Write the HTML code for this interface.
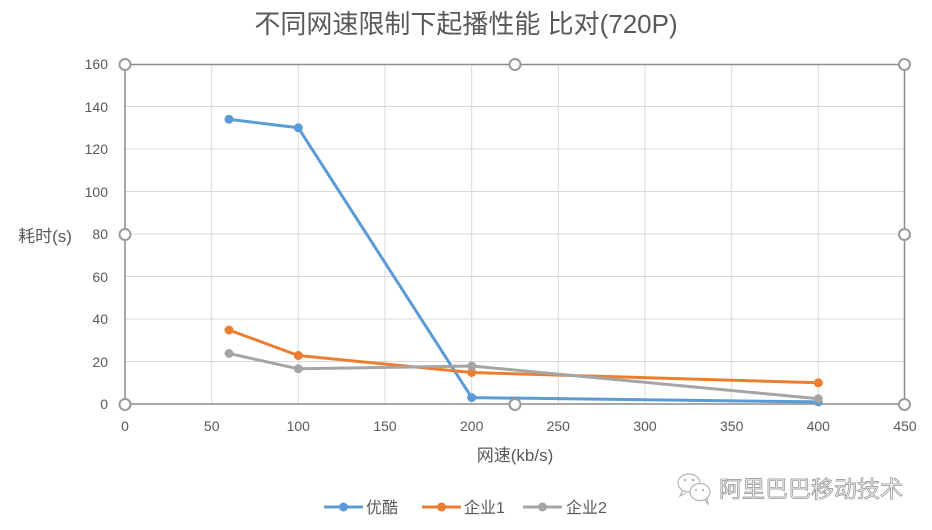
<!DOCTYPE html>
<html>
<head>
<meta charset="utf-8">
<style>
html,body{margin:0;padding:0;background:#fff;}
svg{display:block;}
text{font-family:"Liberation Sans","Noto Sans CJK SC",sans-serif;}
</style>
</head>
<body>
<svg width="932" height="530" viewBox="0 0 932 530" xmlns="http://www.w3.org/2000/svg">
<rect width="932" height="530" fill="#fff"/>
<!-- title -->
<text x="466" y="33" text-anchor="middle" font-size="26" fill="#595959">不同网速限制下起播性能 比对(720P)</text>

<!-- horizontal gridlines -->
<g stroke="#d9d9d9" stroke-width="1">
<line x1="125" y1="361.5" x2="905" y2="361.5"/>
<line x1="125" y1="319" x2="905" y2="319"/>
<line x1="125" y1="276.5" x2="905" y2="276.5"/>
<line x1="125" y1="234" x2="905" y2="234"/>
<line x1="125" y1="191.5" x2="905" y2="191.5"/>
<line x1="125" y1="149" x2="905" y2="149"/>
<line x1="125" y1="106.5" x2="905" y2="106.5"/>
<!-- vertical gridlines -->
<line x1="211.7" y1="64" x2="211.7" y2="404"/>
<line x1="298.3" y1="64" x2="298.3" y2="404"/>
<line x1="385" y1="64" x2="385" y2="404"/>
<line x1="471.7" y1="64" x2="471.7" y2="404"/>
<line x1="558.3" y1="64" x2="558.3" y2="404"/>
<line x1="645" y1="64" x2="645" y2="404"/>
<line x1="731.7" y1="64" x2="731.7" y2="404"/>
<line x1="818.3" y1="64" x2="818.3" y2="404"/>
</g>

<!-- frame / axes -->
<g stroke="#8c8c8c" stroke-width="1.5" fill="none">
<line x1="125" y1="64.5" x2="905" y2="64.5"/>
<line x1="904.5" y1="64" x2="904.5" y2="404"/>
<line x1="125" y1="64" x2="125" y2="404"/>
<line x1="125" y1="404" x2="905" y2="404"/>
</g>

<!-- y tick labels -->
<g font-size="14" fill="#595959" text-anchor="end">
<text x="108" y="409">0</text>
<text x="108" y="367">20</text>
<text x="108" y="324">40</text>
<text x="108" y="282">60</text>
<text x="108" y="239">80</text>
<text x="108" y="197">100</text>
<text x="108" y="154">120</text>
<text x="108" y="112">140</text>
<text x="108" y="69">160</text>
</g>
<!-- x tick labels -->
<g font-size="14" fill="#595959" text-anchor="middle">
<text x="125" y="431">0</text>
<text x="211.7" y="431">50</text>
<text x="298.3" y="431">100</text>
<text x="385" y="431">150</text>
<text x="471.7" y="431">200</text>
<text x="558.3" y="431">250</text>
<text x="645" y="431">300</text>
<text x="731.7" y="431">350</text>
<text x="818.3" y="431">400</text>
<text x="905" y="431">450</text>
</g>

<!-- axis titles -->
<text x="515" y="461" text-anchor="middle" font-size="17" fill="#595959">网速(kb/s)</text>
<text x="45" y="242" text-anchor="middle" font-size="17" fill="#595959">耗时(s)</text>

<!-- series 优酷 -->
<g stroke="#5b9bd5" fill="#5b9bd5">
<polyline points="229,119.3 298.3,127.8 471.7,397.6 818.3,401.9" fill="none" stroke-width="3" stroke-linejoin="round"/>
<circle cx="229" cy="119.3" r="4.5" stroke="none"/>
<circle cx="298.3" cy="127.8" r="4.5" stroke="none"/>
<circle cx="471.7" cy="397.6" r="4.5" stroke="none"/>
<circle cx="818.3" cy="401.9" r="4.5" stroke="none"/>
</g>
<!-- series 企业1 -->
<g stroke="#ed7d31" fill="#ed7d31">
<polyline points="229,330 298.3,355.5 471.7,372.5 818.3,382.8" fill="none" stroke-width="3" stroke-linejoin="round"/>
<circle cx="229" cy="330" r="4.5" stroke="none"/>
<circle cx="298.3" cy="355.5" r="4.5" stroke="none"/>
<circle cx="471.7" cy="372.5" r="4.5" stroke="none"/>
<circle cx="818.3" cy="382.8" r="4.5" stroke="none"/>
</g>
<!-- series 企业2 -->
<g stroke="#a5a5a5" fill="#a5a5a5">
<polyline points="229,353.5 298.3,368.8 471.7,366 818.3,398.7" fill="none" stroke-width="3" stroke-linejoin="round"/>
<circle cx="229" cy="353.5" r="4.5" stroke="none"/>
<circle cx="298.3" cy="368.8" r="4.5" stroke="none"/>
<circle cx="471.7" cy="366" r="4.5" stroke="none"/>
<circle cx="818.3" cy="398.7" r="4.5" stroke="none"/>
</g>

<!-- selection handles -->
<g fill="#fff" stroke="#9a9a9a" stroke-width="2">
<circle cx="125" cy="64.5" r="5.5"/>
<circle cx="515" cy="64.5" r="5.5"/>
<circle cx="904.5" cy="64.5" r="5.5"/>
<circle cx="125" cy="234.5" r="5.5"/>
<circle cx="904.5" cy="234.5" r="5.5"/>
<circle cx="125" cy="404.5" r="5.5"/>
<circle cx="515" cy="404.5" r="5.5"/>
<circle cx="904.5" cy="404.5" r="5.5"/>
</g>

<!-- legend -->
<g>
<line x1="324" y1="507" x2="363" y2="507" stroke="#5b9bd5" stroke-width="3"/>
<circle cx="343.5" cy="507" r="4.5" fill="#5b9bd5"/>
<text x="366" y="513" font-size="16" fill="#595959">优酷</text>
<line x1="422" y1="507" x2="461" y2="507" stroke="#ed7d31" stroke-width="3"/>
<circle cx="441.5" cy="507" r="4.5" fill="#ed7d31"/>
<text x="464" y="513" font-size="16" fill="#595959">企业1</text>
<line x1="523" y1="507" x2="562" y2="507" stroke="#a5a5a5" stroke-width="3"/>
<circle cx="542.5" cy="507" r="4.5" fill="#a5a5a5"/>
<text x="566" y="513" font-size="16" fill="#595959">企业2</text>
</g>

<!-- watermark -->
<g fill="none" stroke="#b5b5b5" stroke-width="1.2">
<ellipse cx="689" cy="483" rx="11" ry="9"/>
<ellipse cx="700" cy="492" rx="10" ry="8.5" fill="#fff"/>
<path d="M683 490 l-3 6 l6 -3"/>
<path d="M704 499 l4 5 l-1 -6"/>
</g>
<g fill="#b0b0b0">
<circle cx="685" cy="480" r="1.3"/>
<circle cx="693" cy="480" r="1.3"/>
<circle cx="696" cy="490" r="1.1"/>
<circle cx="703" cy="490" r="1.1"/>
</g>
<text x="719" y="497" font-size="23" fill="#f4f4f4" stroke="#8e8e8e" stroke-width="0.7">阿里巴巴移动技术</text>
</svg>
</body>
</html>
